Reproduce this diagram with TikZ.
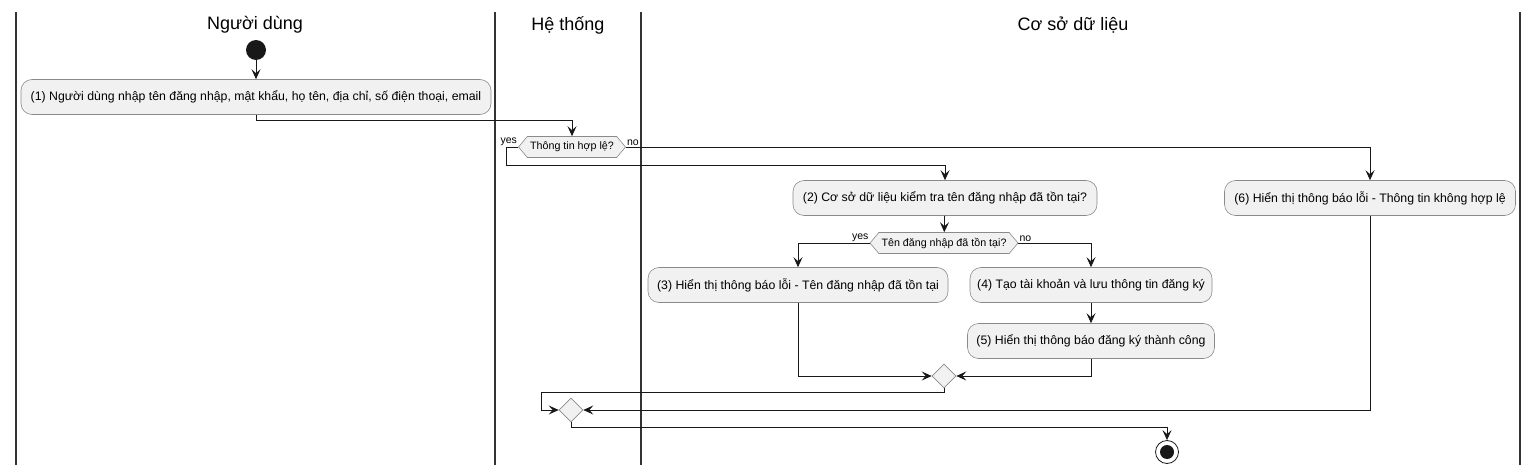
\documentclass[tikz,border=0pt]{standalone}
\usepackage{fontspec}
\setmainfont{Liberation Sans}
\usetikzlibrary{arrows.meta, shapes.geometric, shapes.symbols}
\definecolor{actfill}{HTML}{F1F1F1}
\definecolor{actline}{HTML}{8A8A8A}
\definecolor{flowink}{HTML}{181818}
\definecolor{laneink}{HTML}{333333}

\begin{document}
\begin{tikzpicture}[x=1pt, y=-1pt, font=\fontsize{12.3}{14}\selectfont,
  actbox/.style={draw=actline, fill=actfill, rounded corners=11pt,
    minimum height=35pt, inner xsep=6pt, line width=0.6pt},
  testbox/.style={draw=actline, fill=actfill, shape=signal,
    signal to=west and east, signal pointer angle=100, minimum height=21pt,
    inner xsep=2pt, inner ysep=1pt, line width=0.6pt,
    font=\fontsize{10.7}{12}\selectfont},
  mergebox/.style={draw=actline, fill=actfill, diamond, minimum size=24pt,
    inner sep=0pt, line width=0.6pt},
  flow/.style={draw=flowink, line width=0.8pt,
    -{Stealth[length=10pt, width=9pt, inset=4pt]}},
  tag/.style={font=\fontsize{10.5}{12}\selectfont, inner sep=1pt}]
  \useasboundingbox (0,0) rectangle (1538,476);
  % swimlanes
  \foreach \x in {16,495,641,1520}{%
    \draw[laneink, line width=1.6pt] (\x,12) -- (\x,465);}
  \foreach \lab/\col/\nm in {Người dùng/255/laneuser, Hệ thống/568/lanesys,
                             Cơ sở dữ liệu/1073/lanedb}{%
    \node[font=\fontsize{18}{21}\selectfont] (\nm) at (\col,25) {\lab};}
  % start / stop
  \node[circle, fill=flowink, minimum size=20pt, inner sep=0pt] (start) at (256,50) {};
  \node[circle, draw=flowink, line width=0.8pt, minimum size=23pt, inner sep=0pt]
    (stop) at (1167,452) {};
  \node[circle, fill=flowink, minimum size=14pt, inner sep=0pt] (stopdot) at (stop) {};
  % activities
  \node[actbox, minimum width=470pt] (act1) at (256,97)
    {(1) Người dùng nhập tên đăng nhập, mật khẩu, họ tên, địa chỉ, số điện thoại, email};
  \node[testbox, minimum width=107pt] (chk1) at (572,147) {Thông tin hợp lệ?};
  \node[actbox, minimum width=304pt] (act2) at (945,198)
    {(2) Cơ sở dữ liệu kiểm tra tên đăng nhập đã tồn tại?};
  \node[actbox, minimum width=291pt] (act6) at (1370,198)
    {(6) Hiển thị thông báo lỗi - Thông tin không hợp lệ};
  \node[testbox, minimum width=148pt] (chk2) at (944,243) {Tên đăng nhập đã tồn tại?};
  \node[actbox, minimum width=300pt] (act3) at (798,285)
    {(3) Hiển thị thông báo lỗi - Tên đăng nhập đã tồn tại};
  \node[actbox, minimum width=242pt] (act4) at (1091,285)
    {(4) Tạo tài khoản và lưu thông tin đăng ký};
  \node[actbox, minimum width=247pt] (act5) at (1091,341)
    {(5) Hiển thị thông báo đăng ký thành công};
  \node[mergebox] (merge1) at (944,376) {};
  \node[mergebox] (merge2) at (571,410) {};
  \coordinate (yesturn) at (506,165);
  \coordinate (back) at (541,392);
  % branch tags
  \node[tag, anchor=south east] (yes1) at (chk1.west) {yes};
  \node[tag, anchor=south west] (no1) at (chk1.east) {no};
  \node[tag, anchor=south east] (yes2) at (chk2.west) {yes};
  \node[tag, anchor=south west] (no2) at (chk2.east) {no};
  % flows
  \draw[flow] (start) -- (act1);
  \draw[flow] (act1.south) -- ++(0,6) -| (chk1.north);
  \draw[flow] (chk1.west) -| (yesturn) -| (act2.north);
  \draw[flow] (chk1.east) -| (act6.north);
  \draw[flow] (act2) -- (chk2);
  \draw[flow] (chk2.west) -| (act3.north);
  \draw[flow] (chk2.east) -| (act4.north);
  \draw[flow] (act4) -- (act5);
  \draw[flow] (act3.south) |- (merge1.west);
  \draw[flow] (act5.south) |- (merge1.east);
  \draw[flow] (merge1.south) |- (back) |- (merge2.west);
  \draw[flow] (act6.south) |- (merge2.east);
  \draw[flow] (merge2.south) -- ++(0,5) -| (stop.north);
\end{tikzpicture}
\end{document}
